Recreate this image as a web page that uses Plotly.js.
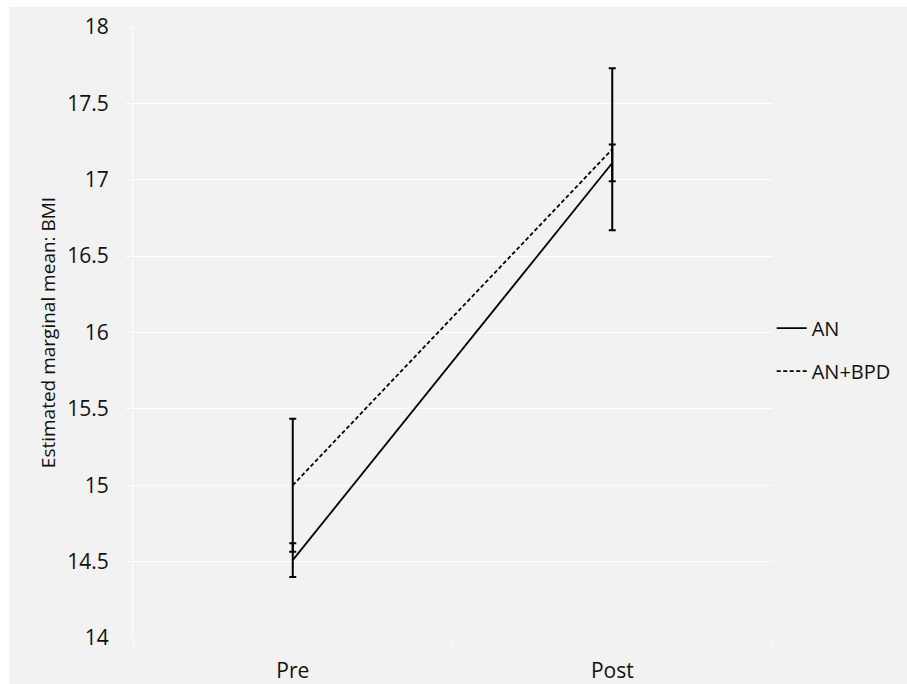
<!DOCTYPE html>
<html>
<head>
<meta charset="utf-8">
<script src="https://cdn.plot.ly/plotly-3.0.1.min.js"></script>
<style>
  html, body { margin: 0; padding: 0; background: #ffffff; }
  #chart { position: absolute; left: 9px; top: 7px; width: 898px; height: 677px; }
</style>
</head>
<body>
<div id="chart"></div>
<script>
// Data
const categories = ["Pre", "Post"];
const seriesNames = ["AN", "AN+BPD"];
const anMeans = [14.51, 17.11];
const anErrors = [0.11, 0.12];
const anBpdMeans = [15.0, 17.2];
const anBpdErrors = [0.435, 0.53];
const yTickVals = [14, 14.5, 15, 15.5, 16, 16.5, 17, 17.5, 18];
const yTickText = ["14", "14.5", "15", "15.5", "16", "16.5", "17", "17.5", "18"];
const yTitle = "Estimated marginal mean: BMI";

const FONT = "Open Sans, Noto Sans, sans-serif";
const TXT = "#111111";

const traces = [
  {
    x: categories, y: anMeans, name: seriesNames[0], type: "scatter", mode: "lines",
    legendgroup: "g1",
    line: { color: "#000000", width: 1.8 },
    error_y: { type: "data", array: anErrors, visible: true, color: "#000000", thickness: 2, width: 3.5 }
  },
  {
    x: categories, y: anBpdMeans, name: seriesNames[1], type: "scatter", mode: "lines",
    legendgroup: "g2",
    line: { color: "#000000", width: 1.8, dash: "4px,2.5px" },
    error_y: { type: "data", array: anBpdErrors, visible: true, color: "#000000", thickness: 2, width: 3.5 }
  }
];

const layout = {
  width: 898, height: 677,
  paper_bgcolor: "#f2f2f2",
  plot_bgcolor: "#f2f2f2",
  margin: { l: 124, r: 134, t: 20, b: 46 },
  font: { family: FONT, color: TXT, size: 20 },
  showlegend: true,
  legend: {
    x: 0.998, xanchor: "left", y: 0.472, yanchor: "middle",
    bgcolor: "rgba(0,0,0,0)", borderwidth: 0,
    font: { family: FONT, size: 20, color: TXT },
    traceorder: "grouped", tracegroupgap: 14, itemwidth: 30
  },
  xaxis: {
    type: "category", range: [-0.5, 1.5],
    showgrid: false, zeroline: false, showline: false,
    ticks: "outside", tickson: "boundaries", ticklen: 7, tickcolor: "#ffffff", tickwidth: 1,
    tickfont: { family: FONT, size: 21, color: TXT },
    ticklabelstandoff: 18,
    fixedrange: true
  },
  yaxis: {
    range: [14, 18],
    tickvals: yTickVals, ticktext: yTickText,
    showgrid: true, gridcolor: "#ffffff", gridwidth: 1,
    zeroline: false,
    showline: true, linecolor: "#ffffff", linewidth: 1,
    ticks: "outside", ticklen: 7, tickcolor: "#ffffff", tickwidth: 1,
    tickfont: { family: FONT, size: 21, color: TXT },
    ticklabelstandoff: 12,
    title: { text: yTitle, font: { family: FONT, size: 19, color: TXT }, standoff: 6 },
    automargin: false,
    fixedrange: true
  }
};

Plotly.newPlot("chart", traces, layout, { displayModeBar: false, staticPlot: true });
</script>
</body>
</html>
